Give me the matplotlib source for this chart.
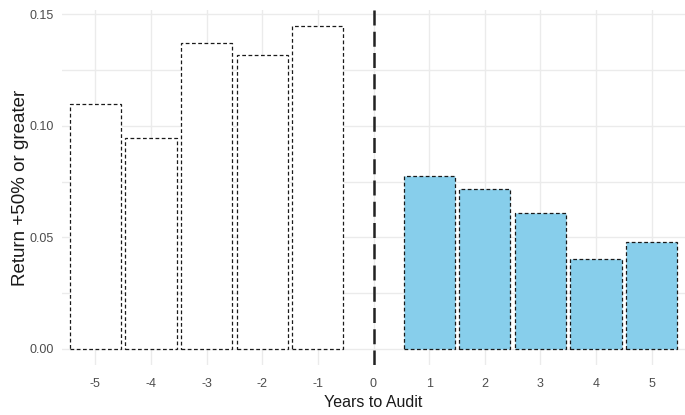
import numpy as np
import matplotlib
matplotlib.use('Agg')
import matplotlib.pyplot as plt

plt.rcParams['font.family'] = ['Liberation Sans', 'DejaVu Sans']

years = [-5, -4, -3, -2, -1, 1, 2, 3, 4, 5]
share = [0.110, 0.0948, 0.137, 0.1316, 0.1447, 0.0777, 0.0719, 0.0611, 0.0404, 0.0481]
xticks = list(range(-5, 6))

fig = plt.figure(figsize=(6.85, 4.15), dpi=100)
ax = fig.add_axes([62/685, 50/415, 623/685, 355/415])

fills = ['white' if y < 0 else '#87CEEB' for y in years]
ax.bar(years, share, width=0.92, color=fills, edgecolor='#1a1a1a',
       linewidth=0.9, linestyle=(0, (3, 2)), zorder=2)
ax.axvline(0, color='#222222', linewidth=1.8, linestyle=(0, (6, 2.5)), zorder=3)

ax.set_xlim(-5.6, 5.6)
ax.set_ylim(-0.0072, 0.152)
ax.set_xticks(xticks)
ax.set_xticklabels([str(t) for t in xticks])
ax.set_yticks([0, 0.05, 0.10, 0.15])
ax.set_yticklabels(['0.00', '0.05', '0.10', '0.15'])
ax.set_yticks([0.025, 0.075, 0.125], minor=True)

ax.grid(True, which='major', color='#ebebeb', linewidth=1.0, zorder=0)
ax.grid(True, which='minor', axis='y', color='#ebebeb', linewidth=1.0, zorder=0)
ax.set_axisbelow(True)
for s in ax.spines.values():
    s.set_visible(False)
ax.tick_params(which='both', length=0, colors='#4d4d4d', labelsize=9)
ax.tick_params(axis='x', pad=9)
ax.tick_params(axis='y', pad=6)

ax.set_xlabel('Years to Audit', fontsize=11.5, color='#1a1a1a', labelpad=4)
fig.text(21/685, 1 - 188/415, 'Return +50% or greater', rotation=90,
         ha='center', va='center', fontsize=13.5, color='#1a1a1a')

fig.savefig('out.png', dpi=100)
